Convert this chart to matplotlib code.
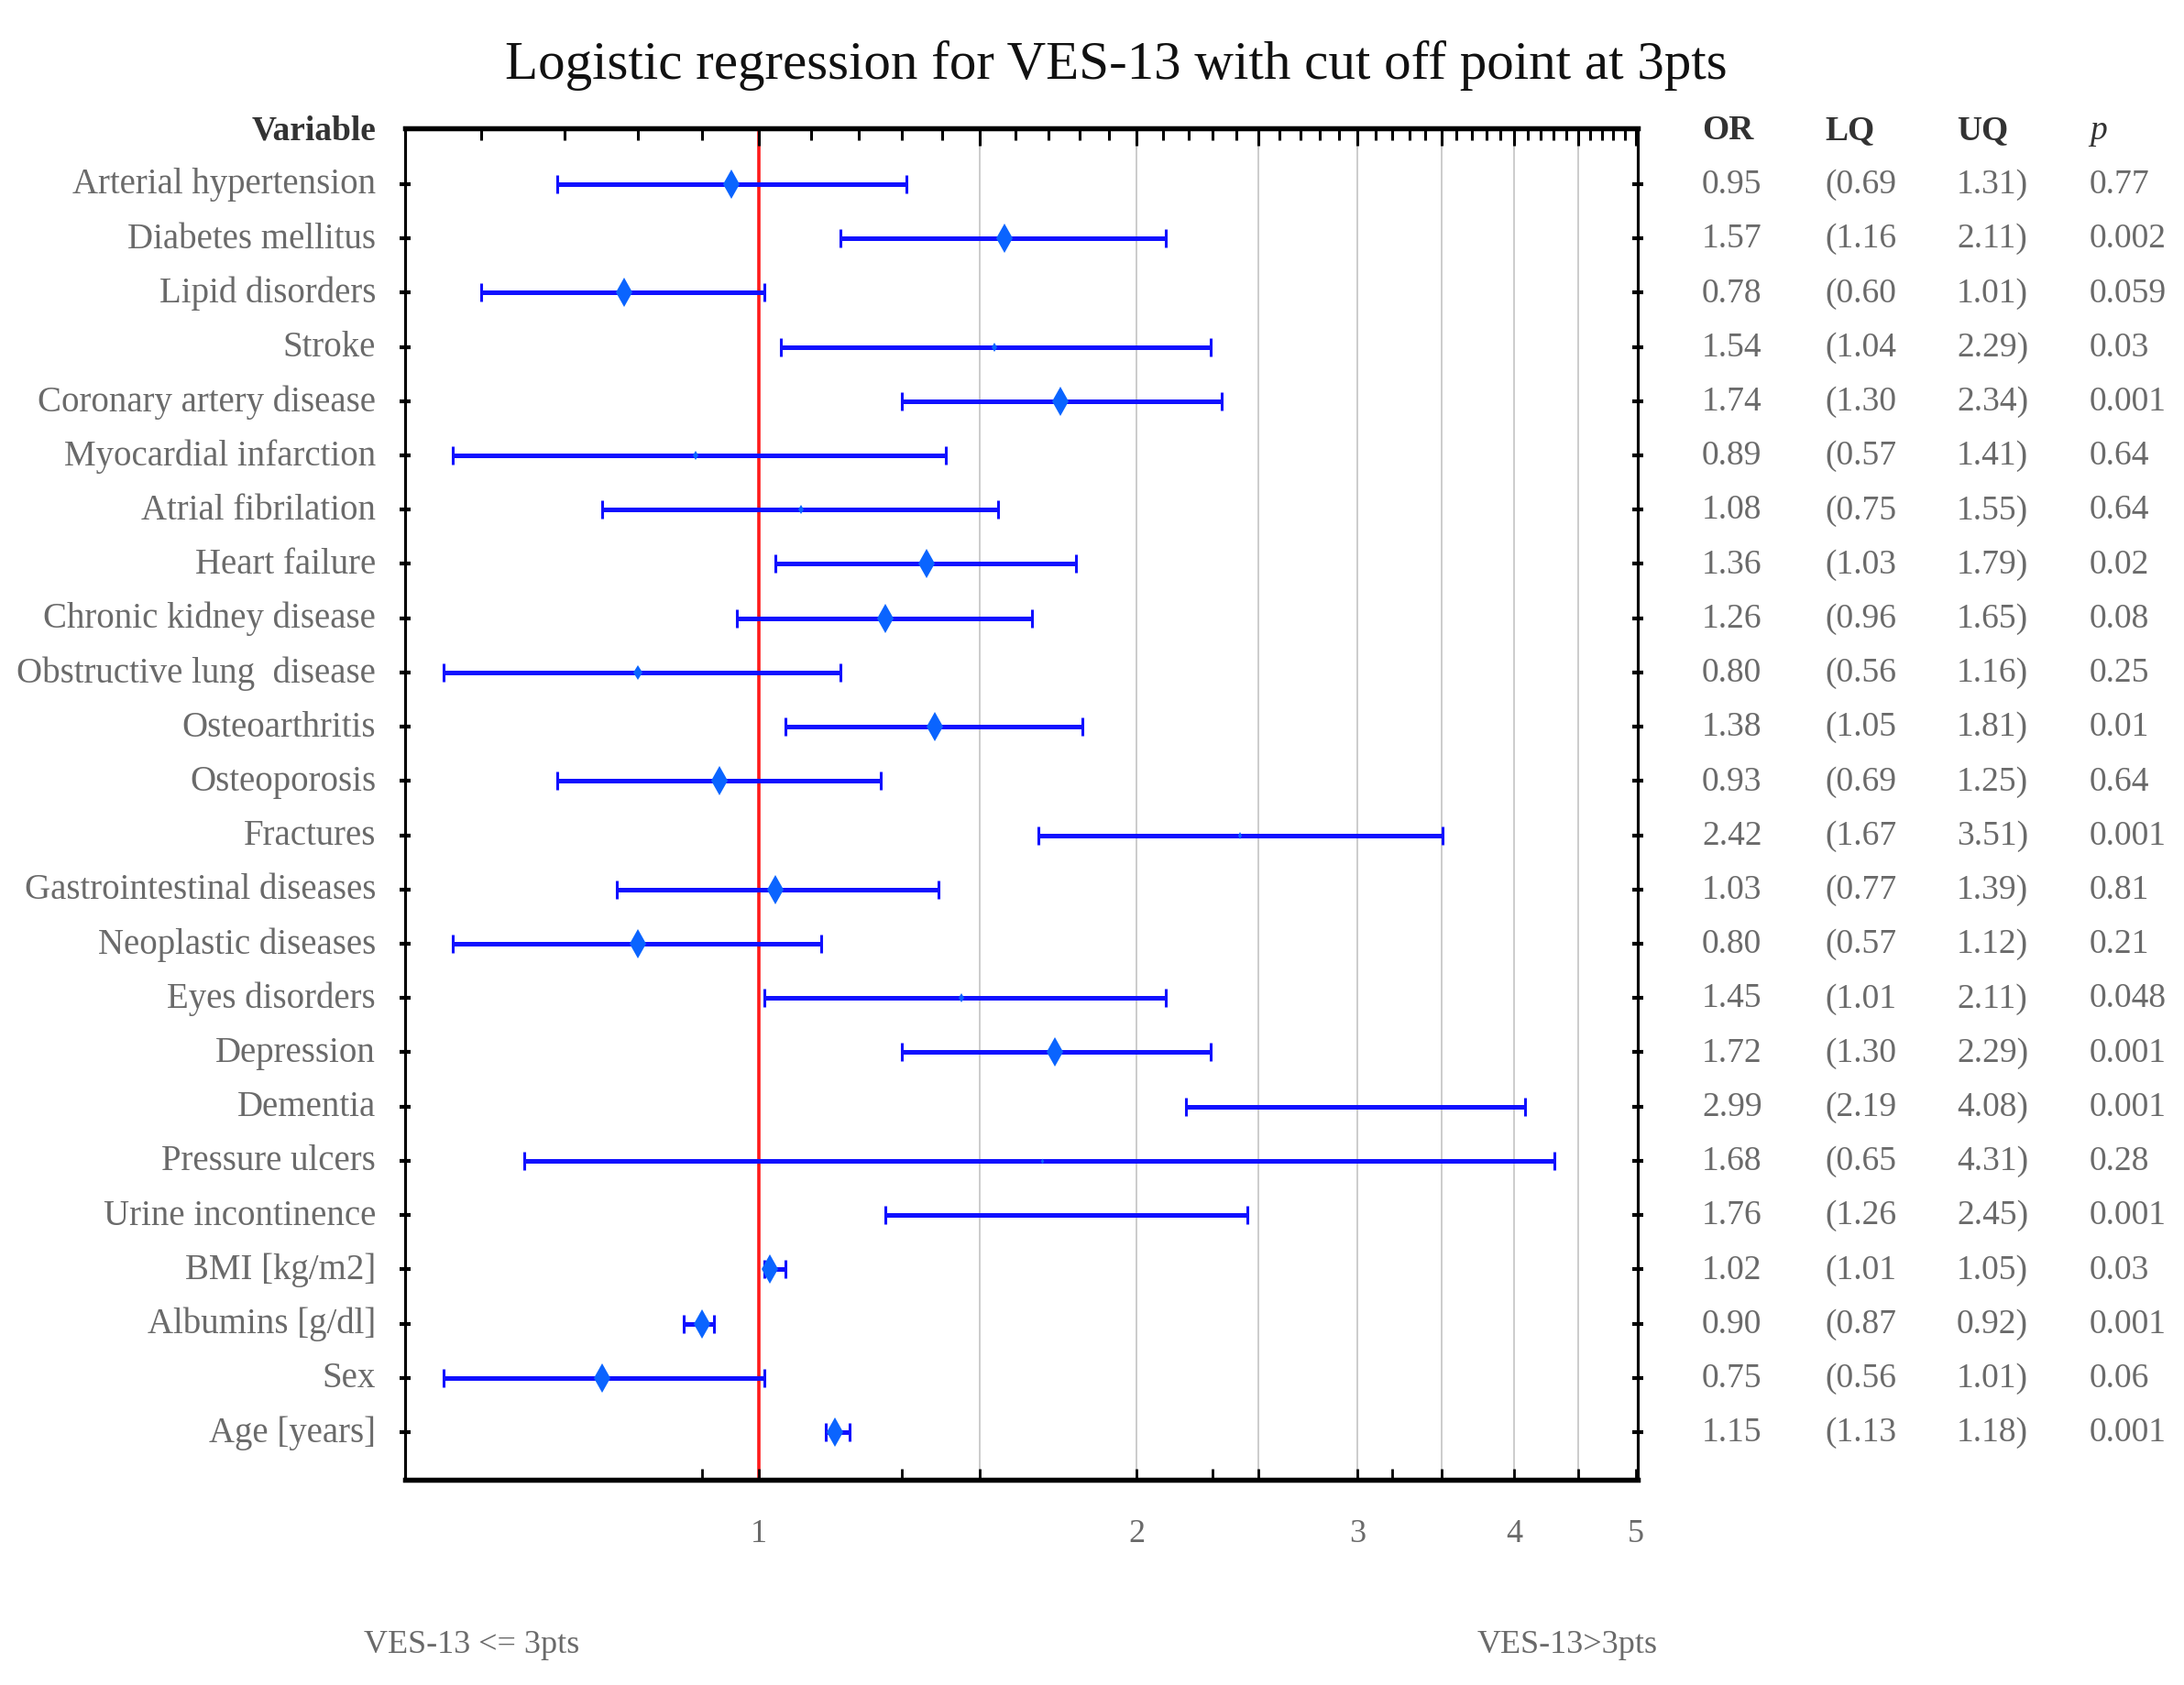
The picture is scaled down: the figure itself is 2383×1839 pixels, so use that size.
import numpy as np
import matplotlib
matplotlib.use('Agg')
import matplotlib.pyplot as plt
from matplotlib.ticker import FixedLocator, NullFormatter

# data
variables = ['Arterial hypertension', 'Diabetes mellitus', 'Lipid disorders', 'Stroke',
             'Coronary artery disease', 'Myocardial infarction', 'Atrial fibrilation',
             'Heart failure', 'Chronic kidney disease', 'Obstructive lung  disease',
             'Osteoarthritis', 'Osteoporosis', 'Fractures', 'Gastrointestinal diseases',
             'Neoplastic diseases', 'Eyes disorders', 'Depression', 'Dementia',
             'Pressure ulcers', 'Urine incontinence', 'BMI [kg/m2]', 'Albumins [g/dl]',
             'Sex', 'Age [years]']
odds_ratio = [0.95, 1.57, 0.78, 1.54, 1.74, 0.89, 1.08, 1.36, 1.26, 0.80, 1.38, 0.93,
              2.42, 1.03, 0.80, 1.45, 1.72, 2.99, 1.68, 1.76, 1.02, 0.90, 0.75, 1.15]
lower_q = [0.69, 1.16, 0.60, 1.04, 1.30, 0.57, 0.75, 1.03, 0.96, 0.56, 1.05, 0.69,
           1.67, 0.77, 0.57, 1.01, 1.30, 2.19, 0.65, 1.26, 1.01, 0.87, 0.56, 1.13]
upper_q = [1.31, 2.11, 1.01, 2.29, 2.34, 1.41, 1.55, 1.79, 1.65, 1.16, 1.81, 1.25,
           3.51, 1.39, 1.12, 2.11, 2.29, 4.08, 4.31, 2.45, 1.05, 0.92, 1.01, 1.18]
p_values = ['0.77', '0.002', '0.059', '0.03', '0.001', '0.64', '0.64', '0.02', '0.08',
            '0.25', '0.01', '0.64', '0.001', '0.81', '0.21', '0.048', '0.001', '0.001',
            '0.28', '0.001', '0.03', '0.001', '0.06', '0.001']
x_tick_labels = ['1', '2', '3', '4', '5']

# marker size per row (the original draws the point with varying size)
marker_sizes = [16, 16, 16, 5, 16, 5, 5, 16, 16, 8, 16, 16,
                4, 16, 16, 5, 16, 0, 3, 0, 16, 16, 16, 16]

serif = ['Liberation Serif', 'DejaVu Serif']
label_color = '#6a6a6a'
head_color = '#333333'

fig = plt.figure(figsize=(23.83, 18.40), dpi=100)
ax = fig.add_axes([0.1855, 0.1217, 0.5644, 0.8017])

ypos = np.arange(len(variables))
or_arr = np.array(odds_ratio)
err = [or_arr - np.array(lower_q), np.array(upper_q) - or_arr]

ax.set_xscale('log')
ax.set_xlim(0.522, 5.02)
ax.set_ylim(23.88, -1.03)

# grid lines and reference line
for g in [1.5, 2, 2.5, 3, 3.5, 4, 4.5]:
    ax.axvline(g, color='#c8c8c8', linewidth=1.3, zorder=0)
ax.axvline(1, color='#ff1a1a', linewidth=2.6, zorder=1)

ax.errorbar(or_arr, ypos, xerr=err, fmt='none', ecolor='#1010ff', elinewidth=3.6,
            capsize=7, capthick=2.2, zorder=3)
for x, y, ms in zip(or_arr, ypos, marker_sizes):
    if ms > 0:
        ax.plot(x, y, marker='d', markersize=ms, color='#0a64ff', markeredgewidth=0,
                zorder=4)

# bottom axis ticks
ax.xaxis.set_major_locator(FixedLocator([1, 2, 3, 4, 5]))
ax.xaxis.set_minor_locator(FixedLocator([0.9, 1.3, 1.5, 2.3, 2.5, 3.2, 3.5, 4.5]))
ax.xaxis.set_minor_formatter(NullFormatter())
ax.set_xticklabels(x_tick_labels, fontsize=26, color=label_color, family=serif)
ax.tick_params(axis='x', which='both', direction='in', length=9, width=2, pad=30)

# top axis with dense ticks
ax2 = ax.twiny()
ax2.set_xscale('log')
ax2.set_xlim(ax.get_xlim())
fine = np.round(np.arange(0.6, 5.01, 0.1), 2)
half = [v for v in fine if abs(v * 2 - round(v * 2)) < 1e-6]
ax2.xaxis.set_major_locator(FixedLocator(half))
ax2.xaxis.set_minor_locator(FixedLocator([v for v in fine if v not in half]))
ax2.xaxis.set_major_formatter(NullFormatter())
ax2.xaxis.set_minor_formatter(NullFormatter())
ax2.tick_params(axis='x', which='major', direction='in', length=14, width=2.2)
ax2.tick_params(axis='x', which='minor', direction='in', length=9, width=2.2)

# y ticks on both sides, labels drawn as text
ax.set_yticks(ypos)
ax.set_yticklabels([])
ax.tick_params(axis='y', which='both', direction='inout', length=8, width=3,
               left=True, right=True)

for side in ['top', 'bottom']:
    ax.spines[side].set_linewidth(3.8)
    ax2.spines[side].set_linewidth(3.8)
for side in ['left', 'right']:
    ax.spines[side].set_linewidth(2.2)
    ax2.spines[side].set_linewidth(2.2)

tr = ax.get_yaxis_transform()
ax.text(-0.0238, -1, 'Variable', transform=tr, ha='right', va='center',
        fontsize=27, fontweight='bold', color=head_color, family=serif)
for y, name in zip(ypos, variables):
    ax.text(-0.0238, y, name, transform=tr, ha='right', va='center',
            fontsize=28, color=label_color, family=serif)

col_x = [1.052, 1.1517, 1.2587, 1.3665]
headers = ['OR', 'LQ', 'UQ', 'p']
for cx, h in zip(col_x, headers):
    ax.text(cx, -1, h, transform=tr, ha='left', va='center', fontsize=27,
            fontweight='bold' if h != 'p' else 'normal',
            fontstyle='italic' if h == 'p' else 'normal',
            color=head_color, family=serif)
for y, o, lo, hi, p in zip(ypos, odds_ratio, lower_q, upper_q, p_values):
    cells = [f'{o:.2f}', f'({lo:.2f}', f'{hi:.2f})', p]
    for cx, c in zip(col_x, cells):
        ax.text(cx, y, c, transform=tr, ha='left', va='center', fontsize=27,
                color=label_color, family=serif)

fig.text(0.511, 0.961, 'Logistic regression for VES-13 with cut off point at 3pts',
         ha='center', va='center', fontsize=42.5, color='#111111', family=serif)
fig.text(0.216, 0.024, 'VES-13 <= 3pts', ha='center', va='center', fontsize=26,
         color=label_color, family=serif)
fig.text(0.7175, 0.024, 'VES-13>3pts', ha='center', va='center', fontsize=26,
         color=label_color, family=serif)

fig.savefig('out.png', dpi=100, facecolor='white')
